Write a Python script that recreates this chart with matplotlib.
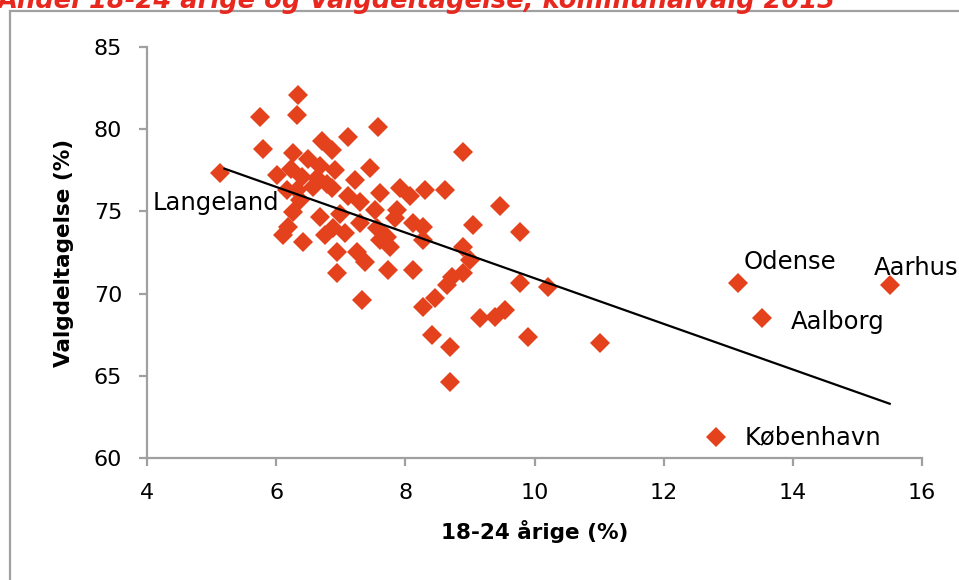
import matplotlib
matplotlib.use('Agg')
import matplotlib.pyplot as plt
from matplotlib.patches import Rectangle

# andel 18-24 aarige (%) og valgdeltagelse (%) pr. kommune
andel = [5.13, 5.75, 5.80, 6.34, 6.32, 6.26, 6.71, 6.86, 7.11, 7.58,
         6.49, 6.01, 6.23, 6.40, 6.68, 6.91, 6.63, 6.79, 7.45, 6.17,
         6.32, 6.57, 6.86, 7.11, 7.30, 7.61, 7.92, 8.07, 8.30, 8.61,
         8.89, 9.47, 6.26, 6.68, 6.99, 6.18, 6.11, 6.42, 6.76, 7.07,
         7.30, 7.56, 7.72, 7.76, 7.87, 8.12, 8.27, 8.27, 6.94, 7.25,
         7.38, 6.94, 7.33, 7.73, 8.12, 8.89, 9.00, 8.89, 8.72, 8.65,
         9.05, 9.78, 9.78, 10.21, 8.46, 8.27, 9.16, 9.39, 9.54, 8.41,
         8.69, 9.90, 11.01, 8.69, 6.88, 7.61, 6.37, 7.22, 7.84, 7.53,
         13.15, 15.50, 13.52, 12.81]
valg = [77.34, 80.74, 78.80, 82.08, 80.86, 78.55, 79.28, 78.73, 79.53, 80.13,
        78.19, 77.21, 77.58, 77.09, 77.76, 77.52, 77.03, 76.67, 77.64, 76.30,
        76.30, 76.48, 76.42, 75.94, 75.57, 76.12, 76.42, 75.94, 76.30, 76.30,
        78.61, 75.33, 74.96, 74.66, 74.84, 74.05, 73.56, 73.14, 73.56, 73.69,
        74.29, 73.99, 73.44, 72.83, 75.09, 74.29, 74.05, 73.26, 72.53, 72.53,
        71.92, 71.25, 69.61, 71.44, 71.44, 72.83, 72.04, 71.25, 71.01, 70.52,
        74.17, 73.75, 70.64, 70.40, 69.73, 69.18, 68.52, 68.58, 69.00, 67.48,
        66.75, 67.36, 67.00, 64.62, 73.99, 73.26, 75.69, 76.91, 74.60, 75.09,
        70.64, 70.52, 68.52, 61.28]

# tendenslinje
trend_x = [5.2, 15.5]
trend_y = [77.6, 63.3]

# navngivne kommuner: tekst, x, y
navne = ['Langeland', 'Odense', 'Aarhus', 'Aalborg', 'København']
navne_x = [4.09, 13.24, 15.26, 13.97, 13.26]
navne_y = [75.5, 71.92, 71.56, 68.27, 61.28]

titel = 'Andel 18-24 årige og Valgdeltagelse, kommunalvalg 2013'

W, H = 959, 580
fig = plt.figure(figsize=(W / 100, H / 100), dpi=100)
plt.rcParams['font.family'] = ['DejaVu Sans']

# ramme rundt om diagrammet
fig.patches.append(Rectangle((10 / W, -0.1), 1.2, 1.1 - 11 / H,
                             transform=fig.transFigure, fill=False,
                             edgecolor='#a0a0a0', lw=1.6))
# titlen er skaaret over i toppen, som i forlaegget
fig.text(-0.002, 1 - 8 / H, titel, color='#e8281e', fontsize=18.5,
         fontweight='bold', style='italic', va='baseline', ha='left')

ax = fig.add_axes([147 / W, 1 - 458 / H, (922 - 147) / W, (458 - 47) / H])
ax.plot(trend_x, trend_y, color='black', lw=1.6, zorder=3)
ax.plot(andel, valg, 'D', color='#e3421c', markersize=10.5,
        markeredgewidth=0, zorder=2)

for t, x, y in zip(navne, navne_x, navne_y):
    ax.text(x, y, t, fontsize=17.5, ha='left', va='center', clip_on=False,
            zorder=4)

ax.set_xlim(4, 16)
ax.set_ylim(60, 85)
ax.set_xticks([4, 6, 8, 10, 12, 14, 16])
ax.set_yticks([60, 65, 70, 75, 80, 85])
ax.spines['top'].set_visible(False)
ax.spines['right'].set_visible(False)
for s in ('left', 'bottom'):
    ax.spines[s].set_color('#a0a0a0')
    ax.spines[s].set_linewidth(1.6)
ax.tick_params(direction='out', length=6, width=1.6, color='#a0a0a0',
               labelsize=16, pad=12)
ax.set_xlabel('18-24 årige (%)', fontsize=15.5, fontweight='bold', labelpad=12)
ax.set_ylabel('Valgdeltagelse (%)', fontsize=15.5, fontweight='bold', labelpad=14)

fig.savefig('out.png', dpi=100)
